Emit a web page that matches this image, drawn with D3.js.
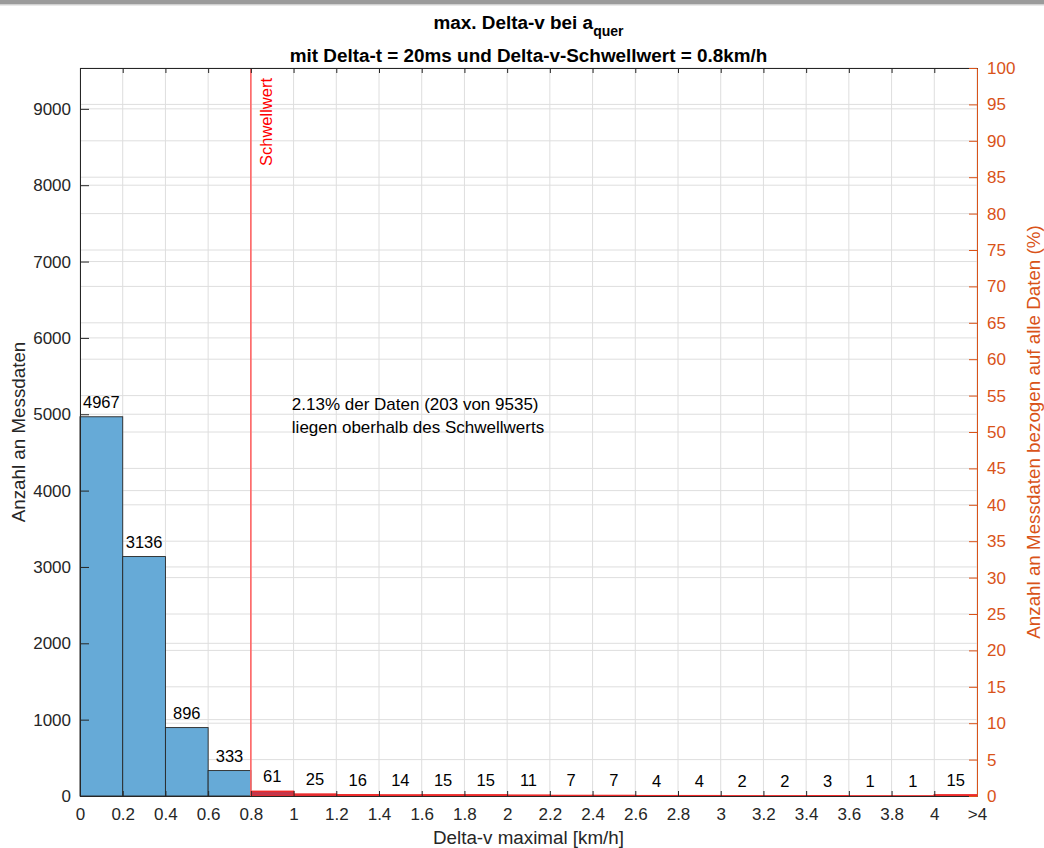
<!DOCTYPE html>
<html>
<head>
<meta charset="utf-8">
<script src="https://cdn.jsdelivr.net/npm/d3@7"></script>
<style>
  body { margin: 0; background: #fff; }
  text { font-family: "Liberation Sans", Arial, sans-serif; }
</style>
</head>
<body>
<div id="chart"></div>
<script>
// Bin starts (km/h), last bin holds everything above 4
const binStarts = [0, 0.2, 0.4, 0.6, 0.8, 1.0, 1.2, 1.4, 1.6, 1.8, 2.0, 2.2, 2.4, 2.6, 2.8, 3.0, 3.2, 3.4, 3.6, 3.8, 4.0];
const counts = [4967, 3136, 896, 333, 61, 25, 16, 14, 15, 15, 11, 7, 7, 4, 4, 2, 2, 3, 1, 1, 15];
const xTickLabels = ['0', '0.2', '0.4', '0.6', '0.8', '1', '1.2', '1.4', '1.6', '1.8', '2', '2.2', '2.4', '2.6', '2.8', '3', '3.2', '3.4', '3.6', '3.8', '4', '>4'];
const yTicksLeft = [0, 1000, 2000, 3000, 4000, 5000, 6000, 7000, 8000, 9000];
const yTicksRight = d3.range(0, 101, 5);
const threshold = 0.8;
const binWidth = 0.2;

const total = d3.sum(counts);
const above = d3.sum(counts.filter((c, i) => binStarts[i] >= threshold));

const width = 1044, height = 848;
const margin = { left: 80, right: 67, top: 68, bottom: 52 };
const innerW = width - margin.left - margin.right;
const innerH = height - margin.top - margin.bottom;
const orange = '#D95319';
const axisColor = '#262626';
const font = '"Liberation Sans", Arial, sans-serif';

const svg = d3.select('#chart').append('svg')
  .attr('width', width)
  .attr('height', height);

// window strip at the top
svg.append('rect').attr('x', 0).attr('y', 0).attr('width', width).attr('height', 4.5).attr('fill', '#9b9b9b');
svg.append('rect').attr('x', 0).attr('y', 4.5).attr('width', width).attr('height', 1).attr('fill', '#d4d4d4');

const g = svg.append('g').attr('transform', `translate(${margin.left}, ${margin.top})`);

const xEdges = binStarts.concat([binStarts[binStarts.length - 1] + binWidth]);
const x = d3.scaleLinear().domain([0, d3.max(xEdges)]).range([0, innerW]);
const y = d3.scaleLinear().domain([0, total]).range([innerH, 0]);
const yPct = d3.scaleLinear().domain([0, 100]).range([innerH, 0]);

// grid
const grid = g.append('g').attr('stroke', '#dedede').attr('stroke-width', 1);
xEdges.forEach(e => {
  grid.append('line').attr('x1', x(e)).attr('x2', x(e)).attr('y1', 0).attr('y2', innerH);
});
yTicksLeft.forEach(t => {
  grid.append('line').attr('x1', 0).attr('x2', innerW).attr('y1', y(t)).attr('y2', y(t));
});
yTicksRight.forEach(t => {
  grid.append('line').attr('x1', 0).attr('x2', innerW).attr('y1', yPct(t)).attr('y2', yPct(t));
});

// bars
g.selectAll('rect.bar')
  .data(counts)
  .join('rect')
  .attr('class', 'bar')
  .attr('x', (d, i) => x(binStarts[i]))
  .attr('width', x(binWidth) - x(0))
  .attr('y', d => y(d))
  .attr('height', d => innerH - y(d))
  .attr('fill', (d, i) => binStarts[i] >= threshold ? '#c2384e' : 'rgb(102,170,215)')
  .attr('stroke', (d, i) => binStarts[i] >= threshold ? '#ee2a2a' : axisColor)
  .attr('stroke-width', (d, i) => binStarts[i] >= threshold ? 1.5 : 0.9);

// bar count labels
g.selectAll('text.count')
  .data(counts)
  .join('text')
  .attr('class', 'count')
  .attr('x', (d, i) => x(binStarts[i] + binWidth / 2))
  .attr('y', d => y(d) - 9)
  .attr('text-anchor', 'middle')
  .attr('font-size', 16.5)
  .attr('fill', '#000')
  .text(d => d);

// threshold line
g.append('line')
  .attr('x1', x(threshold)).attr('x2', x(threshold))
  .attr('y1', 0).attr('y2', innerH)
  .attr('stroke', '#ff6565')
  .attr('stroke-width', 1.6);

g.append('text')
  .attr('transform', `translate(${x(threshold) + 21}, 10) rotate(-90)`)
  .attr('text-anchor', 'end')
  .attr('font-size', 16.5)
  .attr('fill', '#ff0000')
  .text('Schwellwert');

// annotation
const note = g.append('text')
  .attr('x', x(threshold) + 41)
  .attr('y', 342)
  .attr('font-size', 17)
  .attr('fill', '#000');
note.append('tspan').text(`${(above / total * 100).toFixed(2)}% der Daten (${above} von ${total})`);
note.append('tspan').attr('x', x(threshold) + 41).attr('dy', 23).text('liegen oberhalb des Schwellwerts');

// axes
const xAxis = g.append('g')
  .attr('transform', `translate(0, ${innerH})`)
  .call(d3.axisBottom(x).tickValues(xEdges).tickSizeInner(-5).tickSizeOuter(0).tickPadding(12)
    .tickFormat((d, i) => xTickLabels[i]));
const xAxisTop = g.append('g')
  .call(d3.axisTop(x).tickValues(xEdges).tickSizeInner(-5).tickSizeOuter(0).tickFormat(''));
const yAxis = g.append('g')
  .call(d3.axisLeft(y).tickValues(yTicksLeft).tickSizeInner(-9).tickSizeOuter(0).tickPadding(9)
    .tickFormat(d3.format('d')));
const yAxisRight = g.append('g')
  .attr('transform', `translate(${innerW}, 0)`)
  .call(d3.axisRight(yPct).tickValues(yTicksRight).tickSizeInner(-8).tickSizeOuter(0).tickPadding(10));

[xAxis, xAxisTop, yAxis].forEach(a => {
  a.select('.domain').attr('stroke', axisColor);
  a.selectAll('.tick line').attr('stroke', axisColor);
  a.selectAll('.tick text').attr('fill', axisColor).attr('font-size', 17).attr('font-family', font);
});
yAxisRight.select('.domain').attr('stroke', orange);
yAxisRight.selectAll('.tick line').attr('stroke', orange);
yAxisRight.selectAll('.tick text').attr('fill', orange).attr('font-size', 17).attr('font-family', font);

// axis titles
svg.append('text')
  .attr('x', margin.left + innerW / 2)
  .attr('y', 844)
  .attr('text-anchor', 'middle')
  .attr('font-size', 18.8)
  .attr('fill', axisColor)
  .text('Delta-v maximal [km/h]');

svg.append('text')
  .attr('transform', `translate(25, ${margin.top + innerH / 2}) rotate(-90)`)
  .attr('text-anchor', 'middle')
  .attr('font-size', 18.8)
  .attr('fill', axisColor)
  .text('Anzahl an Messdaten');

svg.append('text')
  .attr('transform', `translate(1040, ${margin.top + innerH / 2}) rotate(-90)`)
  .attr('text-anchor', 'middle')
  .attr('font-size', 18.8)
  .attr('fill', orange)
  .text('Anzahl an Messdaten bezogen auf alle Daten (%)');

// title
const title1 = svg.append('text')
  .attr('x', margin.left + innerW / 2)
  .attr('y', 29)
  .attr('text-anchor', 'middle')
  .attr('font-size', 18.9)
  .attr('font-weight', 'bold')
  .attr('fill', '#000');
title1.append('tspan').text('max. Delta-v bei a');
title1.append('tspan').attr('font-size', 14).attr('dy', 7).text('quer');

svg.append('text')
  .attr('x', margin.left + innerW / 2)
  .attr('y', 62)
  .attr('text-anchor', 'middle')
  .attr('font-size', 18.9)
  .attr('font-weight', 'bold')
  .attr('fill', '#000')
  .text('mit Delta-t = 20ms und Delta-v-Schwellwert = 0.8km/h');
</script>
</body>
</html>
